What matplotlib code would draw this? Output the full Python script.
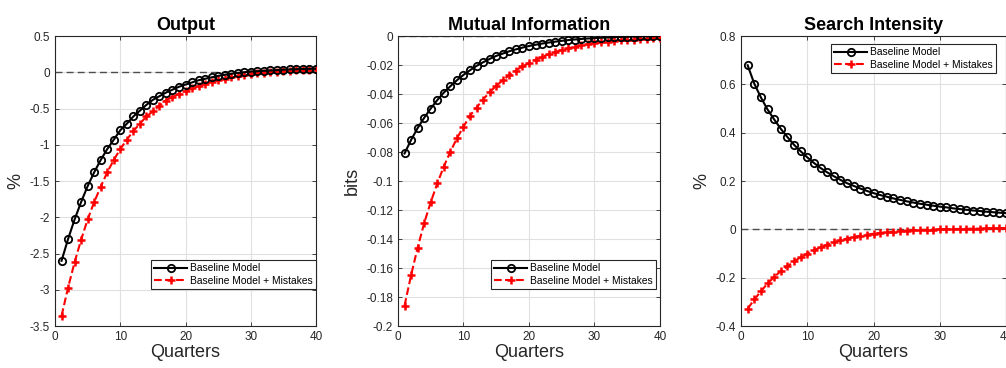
import matplotlib
matplotlib.use('Agg')
import matplotlib.pyplot as plt
from matplotlib.ticker import FuncFormatter
import numpy as np

plt.rcParams['font.family'] = 'Liberation Sans'
plt.rcParams['axes.unicode_minus'] = False

quarters = np.arange(1, 41)

# Output (%)
output_base = [-2.60, -2.30, -2.03, -1.79, -1.57, -1.38, -1.21, -1.06, -0.93, -0.80,
               -0.71, -0.61, -0.53, -0.45, -0.38, -0.33, -0.28, -0.24, -0.20, -0.17,
               -0.14, -0.11, -0.09, -0.07, -0.05, -0.035, -0.02, -0.01, 0.0, 0.01,
               0.015, 0.02, 0.025, 0.03, 0.035, 0.04, 0.042, 0.045, 0.047, 0.05]
output_mist = [-3.36, -2.97, -2.62, -2.31, -2.03, -1.79, -1.58, -1.38, -1.21, -1.06,
               -0.93, -0.81, -0.71, -0.61, -0.54, -0.46, -0.39, -0.34, -0.30, -0.26,
               -0.22, -0.19, -0.16, -0.13, -0.11, -0.09, -0.07, -0.05, -0.04, -0.025,
               -0.015, -0.005, 0.0, 0.01, 0.015, 0.02, 0.025, 0.03, 0.035, 0.04]

# Mutual information (bits)
mi_base = [-0.081, -0.0717, -0.0635, -0.0564, -0.050, -0.0442, -0.039, -0.0346, -0.0305, -0.0268,
           -0.0236, -0.0206, -0.0181, -0.0158, -0.0137, -0.0121, -0.0105, -0.0092, -0.008, -0.0069,
           -0.006, -0.0052, -0.0045, -0.0039, -0.0033, -0.0028, -0.0024, -0.002, -0.0017, -0.0014,
           -0.0012, -0.001, -0.0008, -0.0006, -0.0005, -0.0004, -0.0003, -0.0002, -0.0001, 0.0]
mi_mist = [-0.186, -0.165, -0.146, -0.129, -0.1146, -0.1017, -0.090, -0.0797, -0.0706, -0.0625,
           -0.055, -0.0493, -0.0438, -0.0387, -0.0344, -0.0305, -0.027, -0.0238, -0.021, -0.0186,
           -0.0163, -0.0144, -0.0126, -0.011, -0.0097, -0.0085, -0.0074, -0.0065, -0.0057, -0.005,
           -0.0044, -0.0039, -0.0034, -0.003, -0.0027, -0.0024, -0.0021, -0.0019, -0.0017, -0.0015]

# Search intensity (%)
si_base = [0.679, 0.603, 0.546, 0.496, 0.455, 0.416, 0.382, 0.350, 0.323, 0.298,
           0.275, 0.254, 0.236, 0.220, 0.205, 0.191, 0.180, 0.169, 0.159, 0.150,
           0.142, 0.135, 0.128, 0.122, 0.116, 0.111, 0.106, 0.102, 0.098, 0.094,
           0.091, 0.087, 0.084, 0.081, 0.078, 0.076, 0.073, 0.071, 0.069, 0.067]
si_mist = [-0.329, -0.290, -0.257, -0.224, -0.197, -0.173, -0.153, -0.133, -0.115, -0.100,
           -0.087, -0.074, -0.063, -0.054, -0.045, -0.038, -0.032, -0.026, -0.022, -0.018,
           -0.015, -0.012, -0.009, -0.007, -0.005, -0.004, -0.003, -0.002, -0.001, 0.0,
           0.001, 0.001, 0.002, 0.002, 0.003, 0.003, 0.004, 0.004, 0.005, 0.005]

panels = [
    ('Output', '%', output_base, output_mist, (-3.5, 0.5), np.arange(-3.5, 0.51, 0.5),
     'lower right', (1.0, 0.128)),
    ('Mutual Information', 'bits', mi_base, mi_mist, (-0.2, 0.0), np.arange(-0.2, 0.001, 0.02),
     'lower right', (0.985, 0.128)),
    ('Search Intensity', '%', si_base, si_mist, (-0.4, 0.8), np.arange(-0.4, 0.81, 0.2),
     'upper right', (0.962, 0.972)),
]
lefts = [0.0547, 0.3956, 0.7366]
widths = [0.2594, 0.2604, 0.2634]

fig = plt.figure(figsize=(10.06, 3.68), dpi=100)

for i, (title, ylab, base, mist, ylim, yticks, loc, anchor) in enumerate(panels):
    ax = fig.add_axes([lefts[i], 0.1141, widths[i], 0.788])
    ax.plot([0, 40], [0, 0], '--', color='0.3', lw=1.0, dashes=(5, 3), zorder=2)
    ax.plot(quarters, base, '-o', color='black', lw=1.5, ms=5.3, mfc='none', mew=1.3,
            label='Baseline Model', zorder=4)
    ax.plot(quarters, mist, '--+', color='red', lw=1.5, ms=5.5, mew=1.8,
            label='Baseline Model + Mistakes', zorder=3)
    ax.set_xlim(0, 40)
    ax.set_ylim(*ylim)
    ax.set_xticks([0, 10, 20, 30, 40])
    ax.set_yticks(yticks)
    ax.yaxis.set_major_formatter(FuncFormatter(lambda v, p: '%g' % (round(v, 4) + 0.0)))
    ax.grid(True, color='0.88', lw=0.8)
    ax.set_axisbelow(True)
    ax.tick_params(direction='in', length=3, width=0.6, top=True, right=True,
                   labelsize=8.5, labelcolor='0.15', color='0.15')
    for s in ax.spines.values():
        s.set_linewidth(0.8)
        s.set_color('0.15')
    ax.set_title(title, fontsize=13, fontweight='bold', pad=4)
    ax.set_xlabel('Quarters', fontsize=13, color='0.15', labelpad=1)
    ax.set_ylabel(ylab, fontsize=13, color='0.15', labelpad=4)
    leg = ax.legend(loc=loc, bbox_to_anchor=anchor, fontsize=7.4, fancybox=False,
                    framealpha=1, edgecolor='0.15', borderaxespad=0, handlelength=3.2,
                    borderpad=0.3, labelspacing=0.25, handletextpad=0.3)
    leg.get_frame().set_linewidth(0.8)

fig.savefig('out.png', dpi=100)
